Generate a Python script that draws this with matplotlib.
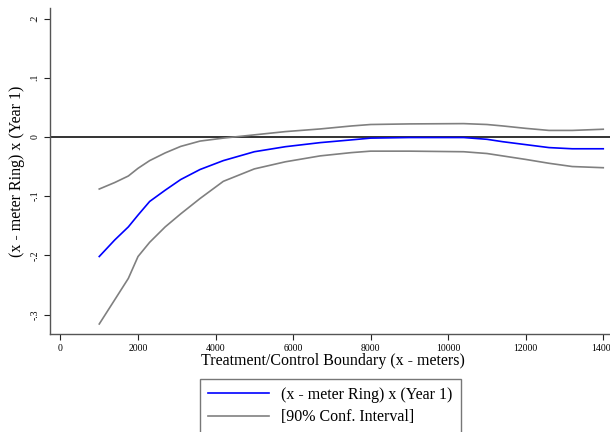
import numpy as np
import matplotlib.pyplot as plt

plt.rcParams['font.family'] = ['Liberation Serif', 'DejaVu Serif']

# distance (meters) and estimates
dist = [1000, 1400, 1750, 2000, 2300, 2700, 3100, 3600, 4200, 5000, 5800, 6700, 7500,
        8000, 9000, 10400, 11000, 11400, 12000, 12600, 13200, 14000]
coef = [-0.202, -0.174, -0.152, -0.132, -0.109, -0.090, -0.072, -0.055, -0.040, -0.025, -0.0165,
        -0.0096, -0.005, -0.002, -0.001, -0.001, -0.004, -0.008, -0.013, -0.018, -0.020, -0.020]
upper = [-0.088, -0.077, -0.066, -0.053, -0.040, -0.027, -0.016, -0.007, -0.002, 0.0035, 0.009,
         0.0135, 0.0185, 0.021, 0.022, 0.0225, 0.021, 0.0186, 0.0145, 0.011, 0.011, 0.013]
lower = [-0.316, -0.275, -0.239, -0.202, -0.178, -0.152, -0.130, -0.104, -0.075, -0.054, -0.042,
         -0.032, -0.0265, -0.024, -0.024, -0.025, -0.028, -0.032, -0.038, -0.0445, -0.050, -0.052]

xticks = [0, 2000, 4000, 6000, 8000, 10000, 12000, 14000]
yticks = [-0.3, -0.2, -0.1, 0, 0.1, 0.2]
ytick_labels = ['-.3', '-.2', '-.1', '0', '.1', '.2']

fig = plt.figure(figsize=(6.1, 4.32), dpi=100)
ax = fig.add_axes([0.082, 0.227, 0.926, 0.7546])

ax.axhline(0, color='#333333', lw=1.4, zorder=1)
l1, = ax.plot(dist, coef, color='#0000ff', lw=1.2, label='(x - meter Ring) x (Year 1)')
l2, = ax.plot(dist, upper, color='#808080', lw=1.2, label='[90% Conf. Interval]')
ax.plot(dist, lower, color='#808080', lw=1.2)

ax.set_xlim(-270, 14300)
ax.set_ylim(-0.3328, 0.2179)
ax.set_xticks(xticks)
ax.set_xticklabels([str(t) for t in xticks], fontsize=7)
ax.set_yticks(yticks)
ax.set_yticklabels(ytick_labels, fontsize=7, rotation=90, va='center')
ax.tick_params(direction='out', length=4, width=0.8, color='#222222')

for s in ['top', 'right']:
    ax.spines[s].set_visible(False)
for s in ['left', 'bottom']:
    ax.spines[s].set_color('#555555')
    ax.spines[s].set_linewidth(1.0)

ax.set_xlabel('Treatment/Control Boundary (x - meters)', fontsize=11.5, labelpad=0)
ax.set_ylabel('(x - meter Ring) x (Year 1)', fontsize=11.5, labelpad=4)

fig.legend(handles=[l1, l2], loc='upper left', bbox_to_anchor=(200 / 610, 1 - 379 / 432),
           fontsize=11.5, frameon=True, fancybox=False, edgecolor='#555555',
           handlelength=3.8, handletextpad=0.8, borderpad=0.5, labelspacing=0.4,
           borderaxespad=0)

fig.savefig('out.png', dpi=100)
